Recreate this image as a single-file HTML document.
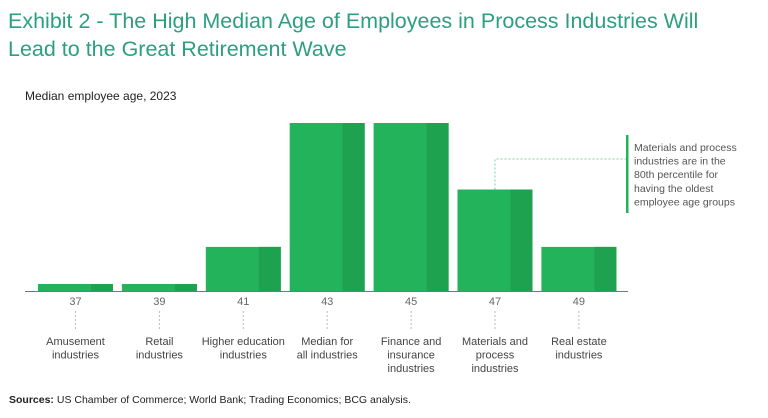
<!DOCTYPE html>
<html><head><meta charset="utf-8"><style>
body{margin:0;width:768px;height:418px;background:#fff;font-family:"Liberation Sans",sans-serif;overflow:hidden;position:relative}
.t{position:absolute;white-space:nowrap}
</style></head><body>
<div class="t" style="left:8px;top:7px;font-size:21.5px;line-height:28px;color:#2c9f7f">Exhibit 2 - The High Median Age of Employees in Process Industries Will<br>Lead to the Great Retirement Wave</div>
<div class="t" style="left:25px;top:89px;font-size:12px;color:#222">Median employee age, 2023</div>
<svg id="chart" width="768" height="418" style="position:absolute;left:0;top:0;font-family:'Liberation Sans',sans-serif"></svg>
<div class="t" style="left:9px;top:394px;font-size:10.5px;color:#222"><b>Sources:</b> US Chamber of Commerce; World Bank; Trading Economics; BCG analysis.</div>
<script>
const categories=["Amusement\nindustries","Retail\nindustries","Higher education\nindustries","Median for\nall industries","Finance and\ninsurance\nindustries","Materials and\nprocess\nindustries","Real estate\nindustries"];
const ages=["37","39","41","43","45","47","49"];
const values=[1,1,6.3,24,24,14.5,6.3];
const svg=document.getElementById('chart');const NS='http://www.w3.org/2000/svg';
const base=291,maxH=168,maxV=24,x0=38,pitch=83.9,bw=75,dark=22;
const y=v=>base-v/maxV*maxH;
const xc=i=>x0+i*pitch;
function mk(t,a){const e=document.createElementNS(NS,t);for(const k in a)e.setAttribute(k,a[k]);svg.appendChild(e);return e;}
values.forEach((v,i)=>{
 const r=mk('rect',{x:xc(i),y:y(v),width:bw,height:base-y(v),fill:'#23b35b'});
 
 
 const d=mk('rect',{x:xc(i)+bw-dark,y:y(v),width:dark,height:base-y(v),fill:'#1fa250'});
 
 
 const cx=xc(i)+bw/2;
 const t=mk('text',{x:cx,y:305,'text-anchor':'middle','font-size':11,fill:'#666'});t.textContent=ages[i];
 
 
 mk('line',{x1:cx,x2:cx,y1:311,y2:330,stroke:'#bbb','stroke-dasharray':'2,2'});
 categories[i].split('\n').forEach((s,j)=>{const c=mk('text',{x:cx,y:345+j*13.5,'text-anchor':'middle','font-size':11,fill:'#444'});c.textContent=s;
 
 });
});
const ax=mk('line',{x1:25,x2:628,y1:291.5,y2:291.5,stroke:'#777','stroke-width':1});


const ac=xc(5)+bw/2;
mk('polyline',{points:`${ac},${y(values[5])} ${ac},159 627,159`,fill:'none',stroke:'#7fd3a0','stroke-dasharray':'2,2'});
const ab=mk('rect',{x:626,y:135,width:2.5,height:78,fill:'#23b35b'});


["Materials and process","industries are in the","80th percentile for","having the oldest","employee age groups"].forEach((s,j)=>{const t=mk('text',{x:634,y:151+j*13.6,'font-size':10.5,fill:'#555'});t.textContent=s;

});
</script>
</body></html>
